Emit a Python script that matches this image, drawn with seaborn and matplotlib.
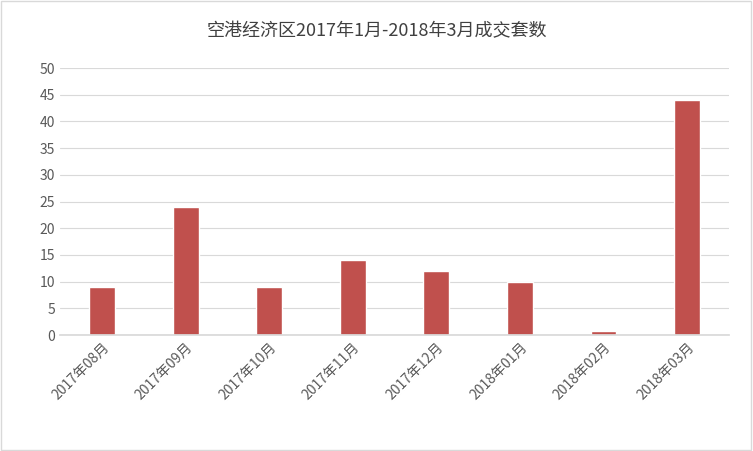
import matplotlib
matplotlib.use("Agg")
import matplotlib.pyplot as plt
import seaborn as sns
import pandas as pd

months = ["2017年08月","2017年09月","2017年10月","2017年11月","2017年12月","2018年01月","2018年02月","2018年03月"]
counts = [9, 24, 9, 14, 12, 10, 0.8, 44]
title = "空港经济区2017年1月-2018年3月成交套数"

sns.set_theme(style="white")
plt.rcParams['font.family'] = ['Noto Sans CJK SC', 'DejaVu Sans']

df = pd.DataFrame({"m": months, "c": counts})
fig = plt.figure(figsize=(7.53, 4.51), dpi=100)
ax = fig.add_axes([0.08, 0.257, 0.888, 0.592])
sns.barplot(data=df, x="m", y="c", color="#C0504D", width=0.31, saturation=1, ax=ax)
ax.set_ylim(0, 50)
ax.set_yticks(range(0, 51, 5))
ax.yaxis.grid(True, color="#D9D9D9", linewidth=0.8)
ax.set_axisbelow(True)
for s in ["top", "right", "left"]:
    ax.spines[s].set_visible(False)
ax.spines["bottom"].set_color("#D9D9D9")
ax.set_xlabel("")
ax.set_ylabel("")
ax.tick_params(axis="both", labelsize=10, colors="#595959", length=0)
plt.setp(ax.get_xticklabels(), rotation=45, ha="right", rotation_mode="anchor")
fig.text(0.5, 0.93, title, ha="center", va="center", fontsize=13, color="#404040")
fig.patches.append(matplotlib.patches.Rectangle((0.001, 0.002), 0.997, 0.995, transform=fig.transFigure,
                   fill=False, edgecolor="#D9D9D9", linewidth=1))
fig.savefig("out.png", dpi=100)
